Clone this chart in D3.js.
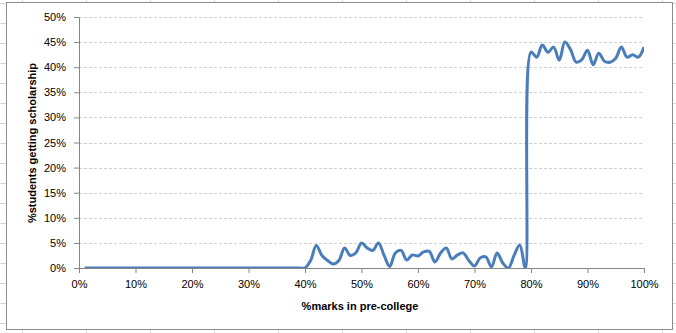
<!DOCTYPE html>
<html>
<head>
<meta charset="utf-8">
<script src="https://cdn.jsdelivr.net/npm/d3@7"></script>
<style>
  body { margin: 0; background: #fff; }
  text { font-family: "Liberation Sans", Arial, sans-serif; }
</style>
</head>
<body>
<script>
// marks (%) and share of students with scholarship (%)
let marks = d3.range(0, 101);
let scholarship = [
    0, 0, 0, 0, 0, 0, 0, 0, 0, 0,
    0, 0, 0, 0, 0, 0, 0, 0, 0, 0,
    0, 0, 0, 0, 0, 0, 0, 0, 0, 0,
    0, 0, 0, 0, 0, 0, 0, 0, 0, 0,
    0, 1.5, 4.5, 2.5, 1.5, 0.8, 1.5, 4, 2.5, 3,
    5, 4, 3.5, 5, 2.5, 0.3, 3, 3.5, 1.6, 2.6,
    2.4, 3.2, 3.3, 1.2, 3, 4, 1.8, 2.6, 3, 1.5,
    0.4, 2, 2.2, 0.2, 3, 1, 0, 2.5, 4.6, 0,
    43, 42, 44.4, 43, 44, 41.4, 45, 43.5, 41, 41.5,
    43.4, 40.5, 42.8, 41.2, 41, 41.8, 44, 42, 42.5, 42,
    44
];

let xTicks = d3.range(0, 101, 10);
let yTicks = d3.range(0, 51, 5);

let W = 676, H = 333;
let margin = { top: 17, right: 32, bottom: 65, left: 79 };
let width = 644 - margin.left, height = 268 - margin.top;

let svg = d3.select("body").append("svg")
    .attr("width", W)
    .attr("height", H);

// spreadsheet cells behind the chart
let cellColor = "#d4d7dc";
svg.append("g").selectAll("line.row")
    .data(d3.range(3, H, 20))
    .enter().append("line")
    .attr("x1", 0).attr("x2", W)
    .attr("y1", d => d + 0.5).attr("y2", d => d + 0.5)
    .attr("stroke", cellColor);
svg.append("g").selectAll("line.col")
    .data(d3.range(22, W, 64))
    .enter().append("line")
    .attr("x1", d => d + 0.5).attr("x2", d => d + 0.5)
    .attr("y1", 0).attr("y2", H)
    .attr("stroke", cellColor);

// chart area
svg.append("rect")
    .attr("x", 6.5).attr("y", 2.5)
    .attr("width", 666).attr("height", 327)
    .attr("fill", "#fff")
    .attr("stroke", "#8c8c8c");

let g = svg.append("g")
    .attr("transform", "translate(" + margin.left + "," + margin.top + ")");

let x = d3.scaleLinear().domain([0, 100]).range([0, width]);
let y = d3.scaleLinear().domain([0, 50]).range([height, 0]);

// gridlines
g.append("g").selectAll("line")
    .data(yTicks.filter(d => d > 0))
    .enter().append("line")
    .attr("x1", 0).attr("x2", width)
    .attr("y1", d => Math.round(y(d)) + 0.5).attr("y2", d => Math.round(y(d)) + 0.5)
    .attr("stroke", "#cfcfcf")
    .attr("stroke-dasharray", "3,2");

// axes
let yAxis = g.append("g")
    .call(d3.axisLeft(y).tickValues(yTicks).tickFormat(d => d + "%").tickSize(5).tickPadding(8));
let xAxis = g.append("g")
    .attr("transform", "translate(0," + height + ")")
    .call(d3.axisBottom(x).tickValues(xTicks).tickFormat(d => d + "%").tickSize(5).tickPadding(7));

[xAxis, yAxis].forEach(a => {
    a.select(".domain").attr("stroke", "#868686");
    a.selectAll(".tick line").attr("stroke", "#868686");
    a.selectAll("text")
        .attr("fill", "#000")
        .style("font-size", "11px")
        .style("font-family", "Liberation Sans, Arial, sans-serif");
});

// the line (starts at 1%, like the original)
g.append("clipPath").attr("id", "plot-clip")
    .append("rect").attr("x", 0).attr("y", -2).attr("width", width).attr("height", height + 2);

let line = d3.line()
    .x(d => x(d[0]))
    .y(d => y(d[1]))
    .curve(d3.curveCatmullRom.alpha(0.5));

g.append("path")
    .datum(d3.zip(marks, scholarship).slice(1))
    .attr("clip-path", "url(#plot-clip)")
    .attr("d", line)
    .attr("fill", "none")
    .attr("stroke", "#4a7ebb")
    .attr("stroke-width", 3)
    .attr("stroke-linejoin", "round");

// axis titles
svg.append("text")
    .attr("x", 360).attr("y", 310)
    .style("text-anchor", "middle")
    .style("font-size", "11px")
    .style("font-weight", "bold")
    .text("%marks  in pre-college");

svg.append("text")
    .attr("transform", "translate(36,143) rotate(-90)")
    .style("text-anchor", "middle")
    .style("font-size", "11px")
    .style("font-weight", "bold")
    .text("%students getting scholarship");
</script>
</body>
</html>
